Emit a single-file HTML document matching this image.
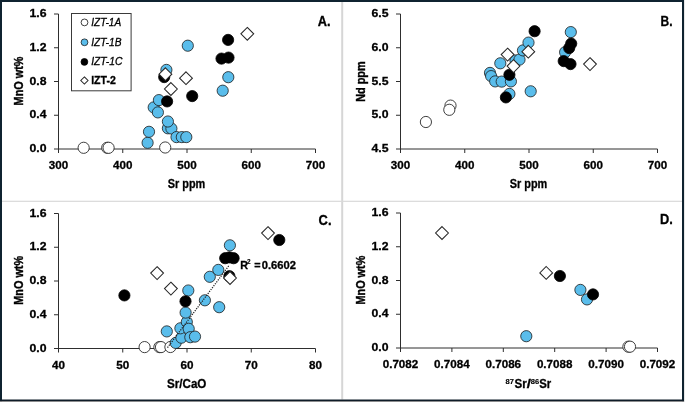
<!DOCTYPE html>
<html><head><meta charset="utf-8"><style>
html,body{margin:0;padding:0;background:#fff;width:685px;height:402px;overflow:hidden}
svg{display:block;will-change:transform}
text{font-family:"Liberation Sans",sans-serif;fill:#000;stroke:#000;stroke-width:0.3px}
</style></head><body>
<svg width="685" height="402" viewBox="0 0 685 402">
<rect x="0" y="0" width="685" height="402" fill="#fff"/>
<path d="M58.5 14.0V153.0M54.0 149.0H315.5V153.0" fill="none" stroke="#2e2e2e" stroke-width="1"/>
<path d="M54.0 115.25H58.5M54.0 81.5H58.5M54.0 47.75H58.5M54.0 14.0H58.5M122.75 149.0V153.0M187.0 149.0V153.0M251.25 149.0V153.0" fill="none" stroke="#2e2e2e" stroke-width="1"/>
<text x="46.5" y="152.0" font-size="11.6" font-weight="bold" text-anchor="end" textLength="17.0" lengthAdjust="spacingAndGlyphs">0.0</text>
<text x="46.5" y="118.25" font-size="11.6" font-weight="bold" text-anchor="end" textLength="17.0" lengthAdjust="spacingAndGlyphs">0.4</text>
<text x="46.5" y="84.5" font-size="11.6" font-weight="bold" text-anchor="end" textLength="17.0" lengthAdjust="spacingAndGlyphs">0.8</text>
<text x="46.5" y="50.75" font-size="11.6" font-weight="bold" text-anchor="end" textLength="17.0" lengthAdjust="spacingAndGlyphs">1.2</text>
<text x="46.5" y="17.0" font-size="11.6" font-weight="bold" text-anchor="end" textLength="17.0" lengthAdjust="spacingAndGlyphs">1.6</text>
<text x="58.5" y="169.1" font-size="11.6" font-weight="bold" text-anchor="middle" textLength="19.4" lengthAdjust="spacingAndGlyphs">300</text>
<text x="122.75" y="169.1" font-size="11.6" font-weight="bold" text-anchor="middle" textLength="19.4" lengthAdjust="spacingAndGlyphs">400</text>
<text x="187.0" y="169.1" font-size="11.6" font-weight="bold" text-anchor="middle" textLength="19.4" lengthAdjust="spacingAndGlyphs">500</text>
<text x="251.25" y="169.1" font-size="11.6" font-weight="bold" text-anchor="middle" textLength="19.4" lengthAdjust="spacingAndGlyphs">600</text>
<text x="315.5" y="169.1" font-size="11.6" font-weight="bold" text-anchor="middle" textLength="19.4" lengthAdjust="spacingAndGlyphs">700</text>
<path d="M400.5 14.0V153.0M396.0 149.0H657.5V153.0" fill="none" stroke="#2e2e2e" stroke-width="1"/>
<path d="M396.0 115.25H400.5M396.0 81.5H400.5M396.0 47.75H400.5M396.0 14.0H400.5M464.75 149.0V153.0M529.0 149.0V153.0M593.25 149.0V153.0" fill="none" stroke="#2e2e2e" stroke-width="1"/>
<text x="388.5" y="152.0" font-size="11.6" font-weight="bold" text-anchor="end" textLength="17.0" lengthAdjust="spacingAndGlyphs">4.5</text>
<text x="388.5" y="118.25" font-size="11.6" font-weight="bold" text-anchor="end" textLength="17.0" lengthAdjust="spacingAndGlyphs">5.0</text>
<text x="388.5" y="84.5" font-size="11.6" font-weight="bold" text-anchor="end" textLength="17.0" lengthAdjust="spacingAndGlyphs">5.5</text>
<text x="388.5" y="50.75" font-size="11.6" font-weight="bold" text-anchor="end" textLength="17.0" lengthAdjust="spacingAndGlyphs">6.0</text>
<text x="388.5" y="17.0" font-size="11.6" font-weight="bold" text-anchor="end" textLength="17.0" lengthAdjust="spacingAndGlyphs">6.5</text>
<text x="400.5" y="169.1" font-size="11.6" font-weight="bold" text-anchor="middle" textLength="19.4" lengthAdjust="spacingAndGlyphs">300</text>
<text x="464.75" y="169.1" font-size="11.6" font-weight="bold" text-anchor="middle" textLength="19.4" lengthAdjust="spacingAndGlyphs">400</text>
<text x="529.0" y="169.1" font-size="11.6" font-weight="bold" text-anchor="middle" textLength="19.4" lengthAdjust="spacingAndGlyphs">500</text>
<text x="593.25" y="169.1" font-size="11.6" font-weight="bold" text-anchor="middle" textLength="19.4" lengthAdjust="spacingAndGlyphs">600</text>
<text x="657.5" y="169.1" font-size="11.6" font-weight="bold" text-anchor="middle" textLength="19.4" lengthAdjust="spacingAndGlyphs">700</text>
<path d="M58.5 213.5V352.5M54.0 348.5H315.5V352.5" fill="none" stroke="#2e2e2e" stroke-width="1"/>
<path d="M54.0 314.75H58.5M54.0 281.0H58.5M54.0 247.25H58.5M54.0 213.5H58.5M122.75 348.5V352.5M187.0 348.5V352.5M251.25 348.5V352.5" fill="none" stroke="#2e2e2e" stroke-width="1"/>
<text x="46.5" y="351.5" font-size="11.6" font-weight="bold" text-anchor="end" textLength="17.0" lengthAdjust="spacingAndGlyphs">0.0</text>
<text x="46.5" y="317.75" font-size="11.6" font-weight="bold" text-anchor="end" textLength="17.0" lengthAdjust="spacingAndGlyphs">0.4</text>
<text x="46.5" y="284.0" font-size="11.6" font-weight="bold" text-anchor="end" textLength="17.0" lengthAdjust="spacingAndGlyphs">0.8</text>
<text x="46.5" y="250.25" font-size="11.6" font-weight="bold" text-anchor="end" textLength="17.0" lengthAdjust="spacingAndGlyphs">1.2</text>
<text x="46.5" y="216.5" font-size="11.6" font-weight="bold" text-anchor="end" textLength="17.0" lengthAdjust="spacingAndGlyphs">1.6</text>
<text x="58.5" y="368.6" font-size="11.6" font-weight="bold" text-anchor="middle" textLength="13.0" lengthAdjust="spacingAndGlyphs">40</text>
<text x="122.75" y="368.6" font-size="11.6" font-weight="bold" text-anchor="middle" textLength="13.0" lengthAdjust="spacingAndGlyphs">50</text>
<text x="187.0" y="368.6" font-size="11.6" font-weight="bold" text-anchor="middle" textLength="13.0" lengthAdjust="spacingAndGlyphs">60</text>
<text x="251.25" y="368.6" font-size="11.6" font-weight="bold" text-anchor="middle" textLength="13.0" lengthAdjust="spacingAndGlyphs">70</text>
<text x="315.5" y="368.6" font-size="11.6" font-weight="bold" text-anchor="middle" textLength="13.0" lengthAdjust="spacingAndGlyphs">80</text>
<path d="M400.5 213.0V352.0M396.0 348.0H657.5V352.0" fill="none" stroke="#2e2e2e" stroke-width="1"/>
<path d="M396.0 314.25H400.5M396.0 280.5H400.5M396.0 246.75H400.5M396.0 213.0H400.5M451.9 348.0V352.0M503.3 348.0V352.0M554.7 348.0V352.0M606.1 348.0V352.0" fill="none" stroke="#2e2e2e" stroke-width="1"/>
<text x="388.5" y="351.0" font-size="11.6" font-weight="bold" text-anchor="end" textLength="17.0" lengthAdjust="spacingAndGlyphs">0.0</text>
<text x="388.5" y="317.25" font-size="11.6" font-weight="bold" text-anchor="end" textLength="17.0" lengthAdjust="spacingAndGlyphs">0.4</text>
<text x="388.5" y="283.5" font-size="11.6" font-weight="bold" text-anchor="end" textLength="17.0" lengthAdjust="spacingAndGlyphs">0.8</text>
<text x="388.5" y="249.75" font-size="11.6" font-weight="bold" text-anchor="end" textLength="17.0" lengthAdjust="spacingAndGlyphs">1.2</text>
<text x="388.5" y="216.0" font-size="11.6" font-weight="bold" text-anchor="end" textLength="17.0" lengthAdjust="spacingAndGlyphs">1.6</text>
<text x="400.5" y="368.1" font-size="11.6" font-weight="bold" text-anchor="middle" textLength="35.6" lengthAdjust="spacingAndGlyphs">0.7082</text>
<text x="451.9" y="368.1" font-size="11.6" font-weight="bold" text-anchor="middle" textLength="35.6" lengthAdjust="spacingAndGlyphs">0.7084</text>
<text x="503.3" y="368.1" font-size="11.6" font-weight="bold" text-anchor="middle" textLength="35.6" lengthAdjust="spacingAndGlyphs">0.7086</text>
<text x="554.7" y="368.1" font-size="11.6" font-weight="bold" text-anchor="middle" textLength="35.6" lengthAdjust="spacingAndGlyphs">0.7088</text>
<text x="606.1" y="368.1" font-size="11.6" font-weight="bold" text-anchor="middle" textLength="35.6" lengthAdjust="spacingAndGlyphs">0.7090</text>
<text x="657.5" y="368.1" font-size="11.6" font-weight="bold" text-anchor="middle" textLength="35.6" lengthAdjust="spacingAndGlyphs">0.7092</text>
<text x="186.5" y="187.5" font-size="12.2" font-weight="bold" text-anchor="middle" textLength="37.5" lengthAdjust="spacingAndGlyphs">Sr ppm</text>
<text x="528.5" y="187.5" font-size="12.2" font-weight="bold" text-anchor="middle" textLength="37.5" lengthAdjust="spacingAndGlyphs">Sr ppm</text>
<text x="186.7" y="387.6" font-size="12.2" font-weight="bold" text-anchor="middle" textLength="39.5" lengthAdjust="spacingAndGlyphs">Sr/CaO</text>
<text x="505.5" y="384.3" font-size="7.4" font-weight="bold" text-anchor="start" textLength="8.4" lengthAdjust="spacingAndGlyphs" style="stroke-width:0.15px">87</text>
<text x="514.6" y="388.3" font-size="12.2" font-weight="bold" text-anchor="start" textLength="12.2" lengthAdjust="spacingAndGlyphs">Sr</text>
<text x="526.8" y="388.3" font-size="12.2" font-weight="bold" text-anchor="start" textLength="4.2" lengthAdjust="spacingAndGlyphs">/</text>
<text x="530.7" y="384.3" font-size="7.4" font-weight="bold" text-anchor="start" textLength="8.4" lengthAdjust="spacingAndGlyphs" style="stroke-width:0.15px">86</text>
<text x="539.2" y="388.3" font-size="12.2" font-weight="bold" text-anchor="start" textLength="12.0" lengthAdjust="spacingAndGlyphs">Sr</text>
<text transform="translate(23.2 81.0) rotate(-90)" x="0" y="0" font-size="12.2" font-weight="bold" text-anchor="middle" textLength="48.8" lengthAdjust="spacingAndGlyphs" style="stroke-width:0.38px">MnO wt%</text>
<text transform="translate(365.3 81.6) rotate(-90)" x="0" y="0" font-size="12.2" font-weight="bold" text-anchor="middle" textLength="40.5" lengthAdjust="spacingAndGlyphs" style="stroke-width:0.38px">Nd ppm</text>
<text transform="translate(23.2 280.3) rotate(-90)" x="0" y="0" font-size="12.2" font-weight="bold" text-anchor="middle" textLength="48.8" lengthAdjust="spacingAndGlyphs" style="stroke-width:0.38px">MnO wt%</text>
<text transform="translate(365.3 280.1) rotate(-90)" x="0" y="0" font-size="12.2" font-weight="bold" text-anchor="middle" textLength="48.8" lengthAdjust="spacingAndGlyphs" style="stroke-width:0.38px">MnO wt%</text>
<text x="330.5" y="25.8" font-size="13.8" font-weight="bold" text-anchor="end" textLength="12.8" lengthAdjust="spacingAndGlyphs">A.</text>
<text x="672.6" y="25.7" font-size="13.8" font-weight="bold" text-anchor="end" textLength="12.0" lengthAdjust="spacingAndGlyphs">B.</text>
<text x="331.5" y="224.9" font-size="13.8" font-weight="bold" text-anchor="end" textLength="12.9" lengthAdjust="spacingAndGlyphs">C.</text>
<text x="672.9" y="223.9" font-size="13.8" font-weight="bold" text-anchor="end" textLength="12.8" lengthAdjust="spacingAndGlyphs">D.</text>
<circle cx="83.65" cy="147.8" r="5.6" fill="#fff" stroke="#2a2a2a" stroke-width="0.9"/>
<circle cx="107.2" cy="147.8" r="5.6" fill="#fff" stroke="#2a2a2a" stroke-width="0.9"/>
<circle cx="108.6" cy="147.8" r="5.6" fill="#fff" stroke="#2a2a2a" stroke-width="0.9"/>
<circle cx="165.2" cy="147.5" r="5.6" fill="#fff" stroke="#2a2a2a" stroke-width="0.9"/>
<circle cx="147.6" cy="142.8" r="5.6" fill="#5abdeb" stroke="#1c1c1c" stroke-width="0.8"/>
<circle cx="149" cy="131.8" r="5.6" fill="#5abdeb" stroke="#1c1c1c" stroke-width="0.8"/>
<circle cx="153.7" cy="107.4" r="5.6" fill="#5abdeb" stroke="#1c1c1c" stroke-width="0.8"/>
<circle cx="157.9" cy="112.4" r="5.6" fill="#5abdeb" stroke="#1c1c1c" stroke-width="0.8"/>
<circle cx="158.9" cy="100.1" r="5.6" fill="#5abdeb" stroke="#1c1c1c" stroke-width="0.8"/>
<circle cx="167.9" cy="128.3" r="5.6" fill="#5abdeb" stroke="#1c1c1c" stroke-width="0.8"/>
<circle cx="171.4" cy="128.5" r="5.6" fill="#5abdeb" stroke="#1c1c1c" stroke-width="0.8"/>
<circle cx="167.9" cy="121.5" r="5.6" fill="#5abdeb" stroke="#1c1c1c" stroke-width="0.8"/>
<circle cx="176.5" cy="137.1" r="5.6" fill="#5abdeb" stroke="#1c1c1c" stroke-width="0.8"/>
<circle cx="181.8" cy="137.1" r="5.6" fill="#5abdeb" stroke="#1c1c1c" stroke-width="0.8"/>
<circle cx="186.3" cy="137.1" r="5.6" fill="#5abdeb" stroke="#1c1c1c" stroke-width="0.8"/>
<circle cx="166.4" cy="69.9" r="5.6" fill="#5abdeb" stroke="#1c1c1c" stroke-width="0.8"/>
<circle cx="187.8" cy="45.7" r="5.6" fill="#5abdeb" stroke="#1c1c1c" stroke-width="0.8"/>
<circle cx="228.3" cy="77.2" r="5.6" fill="#5abdeb" stroke="#1c1c1c" stroke-width="0.8"/>
<circle cx="222.7" cy="90.7" r="5.6" fill="#5abdeb" stroke="#1c1c1c" stroke-width="0.8"/>
<circle cx="164.2" cy="77.1" r="5.6" fill="#000" stroke="#000" stroke-width="0.8"/>
<circle cx="167.1" cy="101.4" r="5.6" fill="#000" stroke="#000" stroke-width="0.8"/>
<circle cx="192.2" cy="96.1" r="5.6" fill="#000" stroke="#000" stroke-width="0.8"/>
<circle cx="228.1" cy="39.9" r="5.6" fill="#000" stroke="#000" stroke-width="0.8"/>
<circle cx="221.5" cy="58.6" r="5.6" fill="#000" stroke="#000" stroke-width="0.8"/>
<circle cx="228.5" cy="57.6" r="5.6" fill="#000" stroke="#000" stroke-width="0.8"/>
<path d="M165.4 67.8L171.8 74.2L165.4 80.60000000000001L159.0 74.2Z" fill="#fff" stroke="#262626" stroke-width="1.05"/>
<path d="M186 71.8L192.4 78.2L186 84.60000000000001L179.6 78.2Z" fill="#fff" stroke="#262626" stroke-width="1.05"/>
<path d="M170.9 82.6L177.3 89L170.9 95.4L164.5 89Z" fill="#fff" stroke="#262626" stroke-width="1.05"/>
<path d="M247.3 27.4L253.70000000000002 33.8L247.3 40.199999999999996L240.9 33.8Z" fill="#fff" stroke="#262626" stroke-width="1.05"/>
<circle cx="425.9" cy="122" r="5.6" fill="#fff" stroke="#2a2a2a" stroke-width="0.9"/>
<circle cx="450.5" cy="105.6" r="5.6" fill="#fff" stroke="#2a2a2a" stroke-width="0.9"/>
<circle cx="449.3" cy="109.8" r="5.6" fill="#fff" stroke="#2a2a2a" stroke-width="0.9"/>
<circle cx="490" cy="72.9" r="5.6" fill="#5abdeb" stroke="#1c1c1c" stroke-width="0.8"/>
<circle cx="491.1" cy="76.1" r="5.6" fill="#5abdeb" stroke="#1c1c1c" stroke-width="0.8"/>
<circle cx="495.2" cy="81.4" r="5.6" fill="#5abdeb" stroke="#1c1c1c" stroke-width="0.8"/>
<circle cx="501.7" cy="81.6" r="5.6" fill="#5abdeb" stroke="#1c1c1c" stroke-width="0.8"/>
<circle cx="510.9" cy="81.4" r="5.6" fill="#5abdeb" stroke="#1c1c1c" stroke-width="0.8"/>
<circle cx="500.3" cy="63.3" r="5.6" fill="#5abdeb" stroke="#1c1c1c" stroke-width="0.8"/>
<circle cx="515.5" cy="60.5" r="5.6" fill="#5abdeb" stroke="#1c1c1c" stroke-width="0.8"/>
<circle cx="519.5" cy="59.6" r="5.6" fill="#5abdeb" stroke="#1c1c1c" stroke-width="0.8"/>
<circle cx="523" cy="50.4" r="5.6" fill="#5abdeb" stroke="#1c1c1c" stroke-width="0.8"/>
<circle cx="528.5" cy="42.6" r="5.6" fill="#5abdeb" stroke="#1c1c1c" stroke-width="0.8"/>
<circle cx="530.7" cy="91.3" r="5.6" fill="#5abdeb" stroke="#1c1c1c" stroke-width="0.8"/>
<circle cx="509.4" cy="93.9" r="5.6" fill="#5abdeb" stroke="#1c1c1c" stroke-width="0.8"/>
<circle cx="570.8" cy="32.1" r="5.6" fill="#5abdeb" stroke="#1c1c1c" stroke-width="0.8"/>
<circle cx="565.1" cy="52.2" r="5.6" fill="#5abdeb" stroke="#1c1c1c" stroke-width="0.8"/>
<circle cx="509.4" cy="74.8" r="5.6" fill="#000" stroke="#000" stroke-width="0.8"/>
<circle cx="505.9" cy="97.4" r="5.6" fill="#000" stroke="#000" stroke-width="0.8"/>
<circle cx="534.6" cy="31.2" r="5.6" fill="#000" stroke="#000" stroke-width="0.8"/>
<circle cx="571.2" cy="43.6" r="5.6" fill="#000" stroke="#000" stroke-width="0.8"/>
<circle cx="569.2" cy="48.1" r="5.6" fill="#000" stroke="#000" stroke-width="0.8"/>
<circle cx="563.7" cy="61.1" r="5.6" fill="#000" stroke="#000" stroke-width="0.8"/>
<circle cx="570.5" cy="64.1" r="5.6" fill="#000" stroke="#000" stroke-width="0.8"/>
<path d="M507.6 48.2L514.0 54.6L507.6 61.0L501.20000000000005 54.6Z" fill="#fff" stroke="#262626" stroke-width="1.05"/>
<path d="M513.5 59.699999999999996L519.9 66.1L513.5 72.5L507.1 66.1Z" fill="#fff" stroke="#262626" stroke-width="1.05"/>
<path d="M528.3 45.300000000000004L534.6999999999999 51.7L528.3 58.1L521.9 51.7Z" fill="#fff" stroke="#262626" stroke-width="1.05"/>
<path d="M590 57.699999999999996L596.4 64.1L590 70.5L583.6 64.1Z" fill="#fff" stroke="#262626" stroke-width="1.05"/>
<circle cx="144.6" cy="347.1" r="5.6" fill="#fff" stroke="#2a2a2a" stroke-width="0.9"/>
<circle cx="159.4" cy="347.1" r="5.6" fill="#fff" stroke="#2a2a2a" stroke-width="0.9"/>
<circle cx="161.0" cy="347.1" r="5.6" fill="#fff" stroke="#2a2a2a" stroke-width="0.9"/>
<circle cx="170.4" cy="347.0" r="5.6" fill="#fff" stroke="#2a2a2a" stroke-width="0.9"/>
<circle cx="166.8" cy="331.4" r="5.6" fill="#5abdeb" stroke="#1c1c1c" stroke-width="0.8"/>
<circle cx="175.7" cy="342.9" r="5.6" fill="#5abdeb" stroke="#1c1c1c" stroke-width="0.8"/>
<circle cx="181.4" cy="337.7" r="5.6" fill="#5abdeb" stroke="#1c1c1c" stroke-width="0.8"/>
<circle cx="180.4" cy="328.3" r="5.6" fill="#5abdeb" stroke="#1c1c1c" stroke-width="0.8"/>
<circle cx="186.8" cy="322" r="5.6" fill="#5abdeb" stroke="#1c1c1c" stroke-width="0.8"/>
<circle cx="188.7" cy="328.8" r="5.6" fill="#5abdeb" stroke="#1c1c1c" stroke-width="0.8"/>
<circle cx="190.3" cy="337.2" r="5.6" fill="#5abdeb" stroke="#1c1c1c" stroke-width="0.8"/>
<circle cx="195" cy="336.6" r="5.6" fill="#5abdeb" stroke="#1c1c1c" stroke-width="0.8"/>
<circle cx="185.6" cy="312.6" r="5.6" fill="#5abdeb" stroke="#1c1c1c" stroke-width="0.8"/>
<circle cx="188.3" cy="290.5" r="5.6" fill="#5abdeb" stroke="#1c1c1c" stroke-width="0.8"/>
<circle cx="209.8" cy="276.8" r="5.6" fill="#5abdeb" stroke="#1c1c1c" stroke-width="0.8"/>
<circle cx="218.3" cy="269.9" r="5.6" fill="#5abdeb" stroke="#1c1c1c" stroke-width="0.8"/>
<circle cx="229.9" cy="245.3" r="5.6" fill="#5abdeb" stroke="#1c1c1c" stroke-width="0.8"/>
<circle cx="204.9" cy="300.3" r="5.6" fill="#5abdeb" stroke="#1c1c1c" stroke-width="0.8"/>
<circle cx="219.2" cy="307.2" r="5.6" fill="#5abdeb" stroke="#1c1c1c" stroke-width="0.8"/>
<circle cx="124.4" cy="295.4" r="5.6" fill="#000" stroke="#000" stroke-width="0.8"/>
<circle cx="185.5" cy="301.3" r="5.6" fill="#000" stroke="#000" stroke-width="0.8"/>
<circle cx="225.2" cy="258.2" r="5.6" fill="#000" stroke="#000" stroke-width="0.8"/>
<circle cx="229.4" cy="257.4" r="5.6" fill="#000" stroke="#000" stroke-width="0.8"/>
<circle cx="233.6" cy="258.2" r="5.6" fill="#000" stroke="#000" stroke-width="0.8"/>
<circle cx="279.3" cy="240" r="5.6" fill="#000" stroke="#000" stroke-width="0.8"/>
<circle cx="229.4" cy="276.2" r="5.6" fill="#000" stroke="#000" stroke-width="0.8"/>
<path d="M157.1 266.70000000000005L163.5 273.1L157.1 279.5L150.7 273.1Z" fill="#fff" stroke="#262626" stroke-width="1.05"/>
<path d="M170.9 282.20000000000005L177.3 288.6L170.9 295.0L164.5 288.6Z" fill="#fff" stroke="#262626" stroke-width="1.05"/>
<path d="M230.0 271.6L236.4 278.0L230.0 284.4L223.6 278.0Z" fill="#fff" stroke="#262626" stroke-width="1.05"/>
<path d="M268 226.7L274.4 233.1L268 239.5L261.6 233.1Z" fill="#fff" stroke="#262626" stroke-width="1.05"/>
<circle cx="628.4" cy="346.7" r="5.6" fill="#fff" stroke="#2a2a2a" stroke-width="0.9"/>
<circle cx="630.0" cy="346.7" r="5.6" fill="#fff" stroke="#2a2a2a" stroke-width="0.9"/>
<circle cx="526.3" cy="336.2" r="5.6" fill="#5abdeb" stroke="#1c1c1c" stroke-width="0.8"/>
<circle cx="580.4" cy="289.9" r="5.6" fill="#5abdeb" stroke="#1c1c1c" stroke-width="0.8"/>
<circle cx="587" cy="299.4" r="5.6" fill="#5abdeb" stroke="#1c1c1c" stroke-width="0.8"/>
<circle cx="559.9" cy="276" r="5.6" fill="#000" stroke="#000" stroke-width="0.8"/>
<circle cx="593" cy="294.4" r="5.6" fill="#000" stroke="#000" stroke-width="0.8"/>
<path d="M442 226.6L448.4 233L442 239.4L435.6 233Z" fill="#fff" stroke="#262626" stroke-width="1.05"/>
<path d="M546.2 266.5L552.6 272.9L546.2 279.29999999999995L539.8000000000001 272.9Z" fill="#fff" stroke="#262626" stroke-width="1.05"/>
<path d="M167.5 347.6L229.2 265.3" stroke="#222" stroke-width="1.25" stroke-dasharray="1.2 1.2" fill="none"/>
<text x="240.2" y="269.3" font-size="10.8" font-weight="bold" text-anchor="start">R</text>
<text x="246.9" y="264.0" font-size="6.4" font-weight="bold" text-anchor="start" style="stroke-width:0.15px">2</text>
<text x="254.2" y="269.3" font-size="10.8" font-weight="bold" text-anchor="start">=</text>
<text x="261.8" y="269.3" font-size="10.8" font-weight="bold" text-anchor="start" textLength="34.2" lengthAdjust="spacingAndGlyphs">0.6602</text>
<rect x="71.5" y="13.5" width="59.6" height="77.3" fill="#fff" stroke="#3a3a3a" stroke-width="1"/>
<circle cx="84.5" cy="22.4" r="3.4" fill="#fff" stroke="#2a2a2a" stroke-width="0.9"/>
<circle cx="84.5" cy="42.3" r="3.4" fill="#5abdeb" stroke="#1c1c1c" stroke-width="0.8"/>
<circle cx="84.4" cy="61.9" r="3.4" fill="#000" stroke="#000" stroke-width="0.8"/>
<path d="M84.4 76.9L88.0 80.5L84.4 84.1L80.80000000000001 80.5Z" fill="#fff" stroke="#262626" stroke-width="1.05"/>
<text x="91.2" y="25.7" font-size="11.2" font-weight="normal" font-style="italic" text-anchor="start" textLength="30.0" lengthAdjust="spacingAndGlyphs">IZT-1A</text>
<text x="91.2" y="45.6" font-size="11.2" font-weight="normal" font-style="italic" text-anchor="start" textLength="30.4" lengthAdjust="spacingAndGlyphs">IZT-1B</text>
<text x="91.2" y="65.2" font-size="11.2" font-weight="normal" font-style="italic" text-anchor="start" textLength="31.2" lengthAdjust="spacingAndGlyphs">IZT-1C</text>
<text x="91.2" y="84.1" font-size="11.2" font-weight="bold" text-anchor="start" textLength="24.6" lengthAdjust="spacingAndGlyphs">IZT-2</text>
<rect x="341.2" y="2" width="2" height="397.5" fill="#d6d6d6"/>
<rect x="0" y="200.7" width="685" height="1.2" fill="#d9d9d9"/>
<path d="M1 0V401.3M0 1H683M683 0V401.3" fill="none" stroke="#0f2330" stroke-width="2"/>
<rect x="0" y="399.5" width="684" height="1.8" fill="#0f1c28"/>
<rect x="0" y="401.3" width="685" height="0.7" fill="#7a7a7a"/>
<rect x="684" y="0" width="1" height="402" fill="#e8e8e8"/>
</svg>
</body></html>
